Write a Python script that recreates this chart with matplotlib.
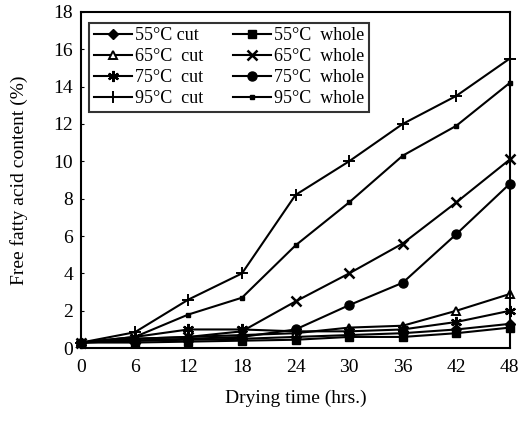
import matplotlib
matplotlib.use("Agg")
import matplotlib.pyplot as plt

hours = [0, 6, 12, 18, 24, 30, 36, 42, 48]
c55_cut = [0.3, 0.4, 0.45, 0.5, 0.6, 0.7, 0.8, 1.0, 1.3]
c65_cut = [0.3, 0.5, 0.6, 0.7, 0.8, 1.1, 1.2, 2.0, 2.9]
c75_cut = [0.3, 0.6, 1.0, 1.0, 0.9, 0.9, 1.0, 1.4, 2.0]
c95_cut = [0.3, 0.85, 2.6, 4.0, 8.2, 10.0, 12.0, 13.5, 15.5]
w55 = [0.3, 0.3, 0.35, 0.4, 0.45, 0.6, 0.6, 0.8, 1.1]
w65 = [0.3, 0.5, 0.6, 0.9, 2.5, 4.0, 5.6, 7.8, 10.1]
w75 = [0.3, 0.4, 0.5, 0.6, 1.0, 2.3, 3.5, 6.1, 8.8]
w95 = [0.3, 0.6, 1.8, 2.7, 5.5, 7.8, 10.3, 11.9, 14.2]
labels = ["55°C cut", "65°C  cut", "75°C  cut", "95°C  cut",
          "55°C  whole", "65°C  whole", "75°C  whole", "95°C  whole"]
xticks = [0, 6, 12, 18, 24, 30, 36, 42, 48]
yticks = [0, 2, 4, 6, 8, 10, 12, 14, 16, 18]

plt.rcParams['font.family'] = ['Liberation Serif', 'DejaVu Serif']

fig = plt.figure(figsize=(5.24, 4.22), dpi=100)
ax = fig.add_axes([0.155, 0.175, 0.818, 0.797])

series = [c55_cut, c65_cut, c75_cut, c95_cut, w55, w65, w75, w95]
styles = [
    dict(marker='D', ms=5, mfc='black'),
    dict(marker='^', ms=6, mfc='white', mew=1.4),
    dict(marker=(6, 2, 0), ms=8, mew=1.6),
    dict(marker='+', ms=8, mew=1.4),
    dict(marker='s', ms=5.5, mfc='black'),
    dict(marker='x', ms=6.5, mew=1.8),
    dict(marker='o', ms=6.5, mfc='black'),
    dict(marker='s', ms=3.5, mfc='black'),
]
for ys, lab, st in zip(series, labels, styles):
    ax.plot(hours, ys, color='black', lw=1.5, mec='black', label=lab,
            clip_on=False, **st)

ax.set_xlim(0, 48)
ax.set_ylim(0, 18)
ax.set_xticks(xticks)
ax.set_yticks(yticks)
ax.tick_params(axis='both', direction='in', labelsize=14, length=2, width=0.8)
ax.tick_params(axis='x', length=0, pad=8)
ax.tick_params(axis='y', pad=6)
for s in ax.spines.values():
    s.set_linewidth(1.5)
ax.set_xlabel("Drying time (hrs.)", fontsize=14, labelpad=10)
ax.set_ylabel("Free fatty acid content (%)", fontsize=14, labelpad=18)

leg = ax.legend(ncol=2, loc='upper left', bbox_to_anchor=(0.019, 0.967),
                borderaxespad=0, fontsize=13, frameon=True, fancybox=False,
                edgecolor='black', handlelength=2.1, handletextpad=0.15,
                columnspacing=1.7, labelspacing=0.22, borderpad=0.25)
leg.get_frame().set_linewidth(1.5)

fig.savefig("out.png", dpi=100)
